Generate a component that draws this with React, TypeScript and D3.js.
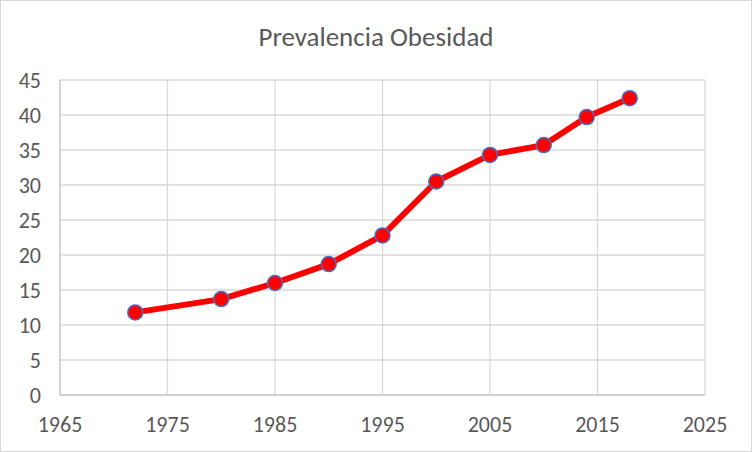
import React, { useEffect, useRef } from "react";
import * as d3 from "d3";

const years = [1972, 1980, 1985, 1990, 1995, 2000, 2005, 2010, 2014, 2018];
const prevalence = [11.8, 13.7, 16.0, 18.7, 22.8, 30.5, 34.3, 35.7, 39.7, 42.4];
const xTicks = [1965, 1975, 1985, 1995, 2005, 2015, 2025];
const yTicks = [0, 5, 10, 15, 20, 25, 30, 35, 40, 45];
const title = "Prevalencia Obesidad";

const W = 752;
const H = 452;
const margin = { top: 80, right: 47, bottom: 57, left: 60 };
const font = "Calibri, Carlito, 'Open Sans', 'Liberation Sans', sans-serif";

export default function App() {
  const ref = useRef<SVGSVGElement>(null);

  useEffect(() => {
    const svg = d3.select(ref.current);
    svg.selectAll("*").remove();

    const x = d3
      .scaleLinear()
      .domain([1965, 2025])
      .range([margin.left, W - margin.right]);
    const y = d3
      .scaleLinear()
      .domain([0, 45])
      .range([H - margin.bottom, margin.top]);

    // fondo y borde
    svg
      .append("rect")
      .attr("x", 0.5)
      .attr("y", 0.5)
      .attr("width", W - 1)
      .attr("height", H - 1)
      .attr("fill", "#fff")
      .attr("stroke", "#d9d9d9");

    // titulo
    svg
      .append("text")
      .attr("x", W / 2)
      .attr("y", 46)
      .attr("text-anchor", "middle")
      .attr("font-family", font)
      .attr("font-size", 27)
      .attr("fill", "#595959")
      .text(title);

    // rejilla
    const grid = svg.append("g").attr("stroke", "#d9d9d9").attr("stroke-width", 1.3);
    yTicks.slice(1).forEach((t) => {
      grid
        .append("line")
        .attr("x1", x(1965))
        .attr("x2", x(2025))
        .attr("y1", y(t))
        .attr("y2", y(t));
    });
    xTicks.slice(1).forEach((t) => {
      grid
        .append("line")
        .attr("x1", x(t))
        .attr("x2", x(t))
        .attr("y1", y(0))
        .attr("y2", y(45));
    });

    // ejes
    const axes = svg.append("g").attr("stroke", "#bfbfbf").attr("stroke-width", 1.3);
    axes
      .append("line")
      .attr("x1", x(1965))
      .attr("x2", x(2025))
      .attr("y1", y(0))
      .attr("y2", y(0));
    axes
      .append("line")
      .attr("x1", x(1965))
      .attr("x2", x(1965))
      .attr("y1", y(0))
      .attr("y2", y(45));

    // etiquetas
    svg
      .append("g")
      .selectAll("text")
      .data(yTicks)
      .join("text")
      .attr("x", x(1965) - 19)
      .attr("y", (d) => y(d))
      .attr("dy", "0.35em")
      .attr("text-anchor", "end")
      .attr("font-family", font)
      .attr("font-size", 22)
      .attr("fill", "#595959")
      .text((d) => d);

    svg
      .append("g")
      .selectAll("text")
      .data(xTicks)
      .join("text")
      .attr("x", (d) => x(d))
      .attr("y", y(0) + 29)
      .attr("dy", "0.35em")
      .attr("text-anchor", "middle")
      .attr("font-family", font)
      .attr("font-size", 22)
      .attr("fill", "#595959")
      .text((d) => d);

    const data = years.map((yr, i) => ({ yr, v: prevalence[i] }));

    // linea
    const lineGen = d3
      .line<{ yr: number; v: number }>()
      .x((d) => x(d.yr))
      .y((d) => y(d.v));
    svg
      .append("path")
      .datum(data)
      .attr("fill", "none")
      .attr("stroke", "#ff0000")
      .attr("stroke-width", 6)
      .attr("stroke-linejoin", "round")
      .attr("stroke-linecap", "round")
      .attr("d", lineGen);

    // marcadores
    svg
      .append("g")
      .selectAll("circle")
      .data(data)
      .join("circle")
      .attr("cx", (d) => x(d.yr))
      .attr("cy", (d) => y(d.v))
      .attr("r", 7.5)
      .attr("fill", "#ff0000")
      .attr("stroke", "#4472c4")
      .attr("stroke-width", 1.5);
  }, []);

  return (
    <div style={{ position: "fixed", left: 0, top: 0 }}>
      <svg ref={ref} width={W} height={H} viewBox={`0 0 ${W} ${H}`} style={{ display: "block" }} />
    </div>
  );
}
